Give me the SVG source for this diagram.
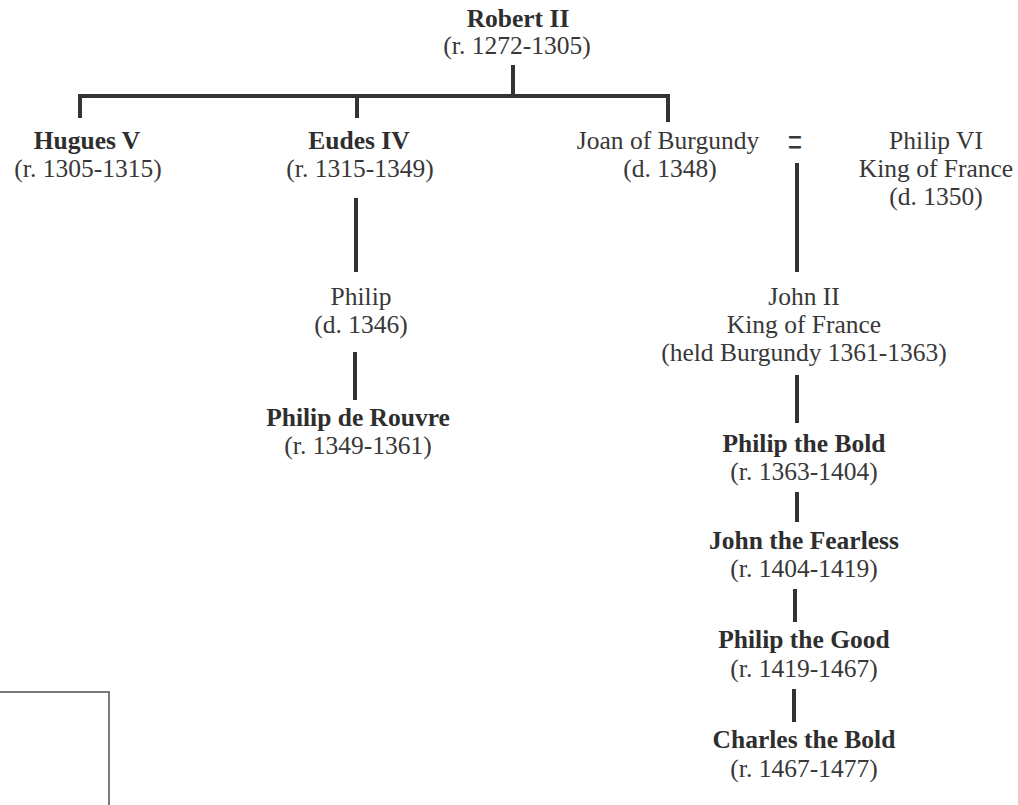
<svg xmlns="http://www.w3.org/2000/svg" width="1018" height="805" viewBox="0 0 1018 805">
  <style>
    text { font-family: "Liberation Serif", "Times New Roman", serif; font-size: 25.5px; fill: #383838; text-anchor: middle; }
    .b { font-weight: bold; fill: #2e2e2e; }
    .ln { stroke: #333; stroke-width: 4; fill: none; }
    .frame { stroke: #7a7a7a; stroke-width: 2; fill: none; }
  </style>
  <rect width="1018" height="805" fill="#fff"/>

  <!-- connectors -->
  <g id="connectors">
    <path class="ln" d="M513 65 V96 M80 118 V96 H668 V122 M357 96 V118"/>
    <line class="ln" x1="356" y1="198" x2="356" y2="272"/>
    <line class="ln" x1="355" y1="352" x2="355" y2="400"/>
    <line class="ln" x1="797" y1="163" x2="797" y2="272"/>
    <line class="ln" x1="797" y1="375" x2="797" y2="423"/>
    <line class="ln" x1="797" y1="492" x2="797" y2="522"/>
    <line class="ln" x1="795" y1="589" x2="795" y2="622"/>
    <line class="ln" x1="794" y1="689" x2="794" y2="722"/>
  </g>

  <g id="robert-ii">
    <text class="b" x="518" y="27">Robert II</text>
    <text x="517" y="54">(r. 1272-1305)</text>
  </g>
  <g id="hugues-v">
    <text class="b" x="87" y="149">Hugues V</text>
    <text x="88" y="177">(r. 1305-1315)</text>
  </g>
  <g id="eudes-iv">
    <text class="b" x="359" y="149">Eudes IV</text>
    <text x="360" y="177">(r. 1315-1349)</text>
  </g>
  <g id="joan-of-burgundy">
    <text x="668" y="149">Joan of Burgundy</text>
    <text x="670" y="177">(d. 1348)</text>
  </g>
  <g id="marriage">
    <!-- tall marriage sign -->
    <text transform="translate(795,159) scale(1,2)">=</text>
  </g>
  <g id="philip-vi">
    <text x="936" y="149">Philip VI</text>
    <text x="936" y="177">King of France</text>
    <text x="936" y="205">(d. 1350)</text>
  </g>
  <g id="philip">
    <text x="361" y="305">Philip</text>
    <text x="361" y="333">(d. 1346)</text>
  </g>
  <g id="john-ii">
    <text x="804" y="305">John II</text>
    <text x="804" y="333">King of France</text>
    <text x="804" y="361">(held Burgundy 1361-1363)</text>
  </g>
  <g id="philip-de-rouvre">
    <text class="b" x="358" y="426">Philip de Rouvre</text>
    <text x="358" y="454">(r. 1349-1361)</text>
  </g>
  <g id="philip-the-bold">
    <text class="b" x="804" y="452">Philip the Bold</text>
    <text x="804" y="480">(r. 1363-1404)</text>
  </g>
  <g id="john-the-fearless">
    <text class="b" x="804" y="549">John the Fearless</text>
    <text x="804" y="577">(r. 1404-1419)</text>
  </g>
  <g id="philip-the-good">
    <text class="b" x="804" y="648">Philip the Good</text>
    <text x="804" y="677">(r. 1419-1467)</text>
  </g>
  <g id="charles-the-bold">
    <text class="b" x="804" y="748">Charles the Bold</text>
    <text x="804" y="777">(r. 1467-1477)</text>
  </g>

  <!-- frame corner at lower left -->
  <path class="frame" d="M-5 692 H109 V810"/>
</svg>
